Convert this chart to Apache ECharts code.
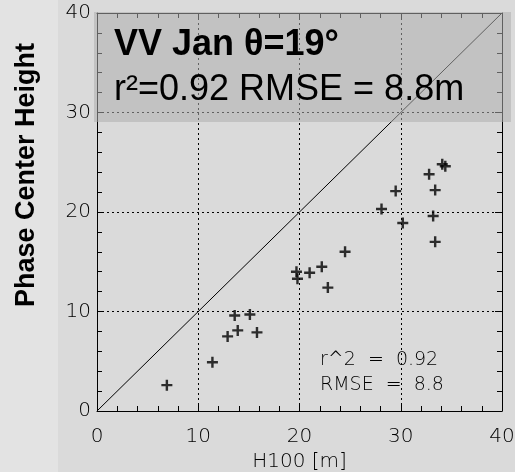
<!DOCTYPE html>
<html><head><meta charset="utf-8">
<script src="https://cdn.jsdelivr.net/npm/echarts@6/dist/echarts.min.js"></script>
<style>html,body{margin:0;padding:0;background:#dadada}#c{width:515px;height:472px}</style>
</head><body><div id="c"></div>
<script>
// H100 [m] (x) vs phase center height (y)
const h100 = [6.9, 11.4, 12.9, 13.6, 13.9, 15.1, 15.8, 19.7, 19.8, 21.0, 22.2, 22.8, 24.5, 28.1, 29.5, 30.2, 32.8, 33.2, 33.4, 33.4, 34.1, 34.4];
const phaseHeight = [2.6, 4.9, 7.5, 9.6, 8.1, 9.7, 7.9, 14.0, 13.3, 13.9, 14.5, 12.4, 16.0, 20.3, 22.1, 18.9, 23.8, 19.6, 22.2, 17.0, 24.8, 24.6];
const oneToOne = [[0, 0], [40, 40]];
const axisTicks = [0, 10, 20, 30, 40];
const titleLine1 = 'VV Jan θ=19°';
const titleLine2 = 'r²=0.92 RMSE = 8.8m';
const statLines = ['r^2  =  0.92', 'RMSE  =  8.8'];

const pts = h100.map((x, i) => [x, phaseHeight[i]]);
const tickFont = { fontFamily: 'DejaVu Sans', fontSize: 20, fontWeight: 200, color: '#000' };
const plus = 'path://M3.9,0H6.1V10H3.9Z M0,3.9H10V6.1H0Z';
const axMin = axisTicks[0], axMax = axisTicks[axisTicks.length - 1];
const gridBox = { left: 97, right: 13, top: 13, bottom: 61, containLabel: false, outerBoundsMode: 'none' };

function primary() {
  return {
    type: 'value', gridIndex: 0, min: axMin, max: axMax, interval: 10,
    axisLine: { show: true, lineStyle: { color: '#000', width: 1 } },
    axisTick: { show: true, inside: true, length: 7, lineStyle: { color: '#000' } },
    minorTick: { show: true, splitNumber: 5, length: 5, lineStyle: { color: '#000' } },
    splitLine: { show: true, lineStyle: { color: '#000', type: [2, 3], width: 1 } }
  };
}
// mirrored frame axes in an overlaid grid: both inverted so that their zero lies at top / right
function secondary(pos) {
  return {
    type: 'value', gridIndex: 1, min: axMin, max: axMax, interval: 10, position: pos, inverse: true,
    axisLine: { show: true, lineStyle: { color: '#000', width: 1 } },
    axisTick: { show: true, inside: true, length: 7, lineStyle: { color: '#000' } },
    minorTick: { show: true, splitNumber: 5, length: 5, lineStyle: { color: '#000' } },
    axisLabel: { show: false },
    splitLine: { show: false }
  };
}

const chart = echarts.init(document.getElementById('c'));
chart.setOption({
  backgroundColor: '#dadada',
  animation: false,
  grid: [Object.assign({}, gridBox), Object.assign({}, gridBox)],
  xAxis: [
    Object.assign(primary(), {
      axisLabel: Object.assign({ margin: 16 }, tickFont),
      name: 'H100 [m]', nameLocation: 'middle', nameGap: 29,
      nameTextStyle: Object.assign({}, tickFont)
    }),
    secondary('top')
  ],
  yAxis: [
    Object.assign(primary(), {
      axisLabel: Object.assign({ margin: 6 }, tickFont)
    }),
    secondary('right')
  ],
  series: [
    { type: 'line', data: oneToOne, showSymbol: false, symbol: 'none',
      lineStyle: { color: '#000', width: 1 }, z: 2 },
    { type: 'scatter', data: pts, symbol: plus, symbolSize: 11,
      itemStyle: { color: '#000' }, z: 3 }
  ],
  graphic: [
    { type: 'rect', z: -10, shape: { x: 0, y: 0, width: 58, height: 472 }, style: { fill: '#e3e3e3' } },
    { type: 'rect', z: 100, shape: { x: 94, y: 12, width: 417, height: 110 }, style: { fill: 'rgba(175,175,175,0.55)' } },
    { type: 'text', z: 101, x: 114, y: 45, style: { text: titleLine1, fontFamily: 'Liberation Sans', fontWeight: 'bold', fontSize: 36, fill: '#000', textVerticalAlign: 'middle' } },
    { type: 'text', z: 101, x: 114, y: 90, style: { text: titleLine2, fontFamily: 'Liberation Sans', fontSize: 36, fill: '#000', textVerticalAlign: 'middle' } },
    { type: 'text', z: 101, x: 27, y: 175, rotation: Math.PI / 2, style: { text: 'Phase Center Height', fontFamily: 'Liberation Sans', fontWeight: 'bold', fontSize: 27, fill: '#000', textAlign: 'center', textVerticalAlign: 'middle' } },
    { type: 'text', z: 101, x: 320, y: 360, style: { text: statLines[0], fontFamily: 'DejaVu Sans', fontWeight: 200, fontSize: 19, fill: '#000', textVerticalAlign: 'middle' } },
    { type: 'text', z: 101, x: 320, y: 385, style: { text: statLines[1], fontFamily: 'DejaVu Sans', fontWeight: 200, fontSize: 19, fill: '#000', textVerticalAlign: 'middle' } }
  ]
});
</script></body></html>
